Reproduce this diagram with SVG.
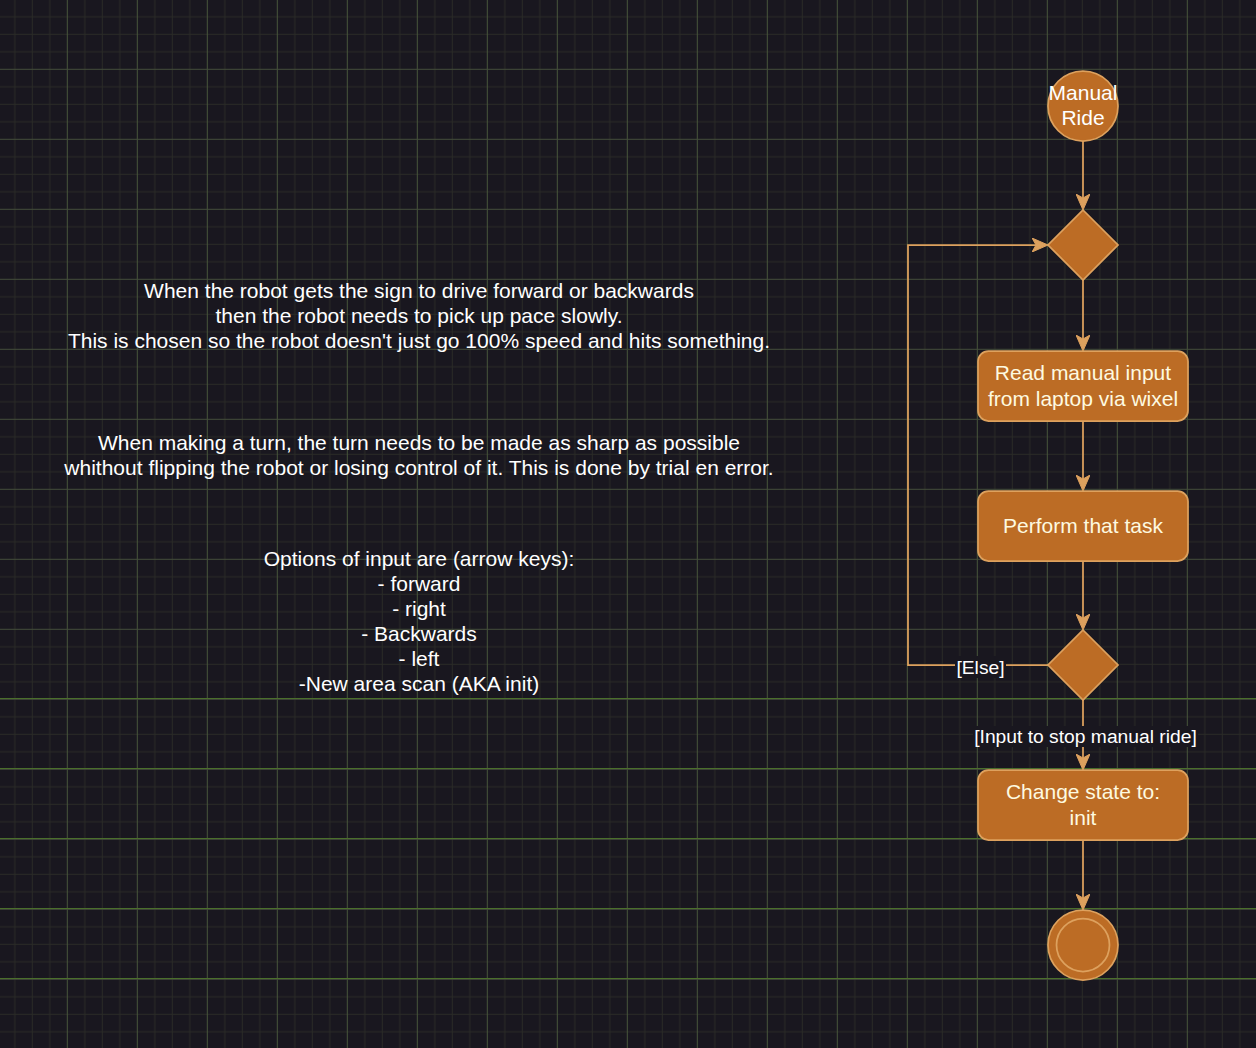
<svg xmlns="http://www.w3.org/2000/svg" width="1256" height="1048" viewBox="0 0 1256 1048">
  <defs>
    <pattern id="grid" patternUnits="userSpaceOnUse" x="-3.2" y="-1.2" width="70" height="70">
      <rect x="0" y="0" width="70" height="70" fill="#19171f"/>
      <g fill="#2a2b27">
        <rect x="17.5" y="0" width="1" height="70"/>
        <rect x="35" y="0" width="1" height="70"/>
        <rect x="52.5" y="0" width="1" height="70"/>
        <rect x="0" y="17.5" width="70" height="1"/>
        <rect x="0" y="35" width="70" height="1"/>
        <rect x="0" y="52.5" width="70" height="1"/>
      </g>
      <rect x="0" y="0" width="1" height="70" fill="#47553b"/>
      <rect x="0" y="0" width="70" height="1" fill="#434d3a"/>
    </pattern>
    <marker id="arrow" markerUnits="userSpaceOnUse" markerWidth="16" markerHeight="14" viewBox="0 0 16 14" refX="4" refY="7" orient="auto">
      <path d="M0,0 L16,7 L0,14 L4,7 Z" fill="#DDA15E" stroke="#DDA15E" stroke-width="1"/>
    </marker>
  </defs>
  <style>
    .shape { fill: #BC6C25; stroke: #DDA15E; stroke-width: 1.75; }
    .edge { fill: none; stroke: #DDA15E; stroke-width: 1.75; }
    .t { font-family: "Liberation Sans", Arial, sans-serif; font-size: 21px; text-anchor: middle; }
    .note { fill: #ffffff; }
    .in { fill: #FEFAE0; }
    .lbl { font-family: "Liberation Sans", Arial, sans-serif; font-size: 19.25px; text-anchor: middle; fill: #ffffff; }
    .lblbg { fill: #19171f; }
  </style>
  <g id="background">
    <rect x="0" y="0" width="1256" height="1048" fill="url(#grid)"/>
    <g fill="#4b6f2c">
      <rect x="0" y="698" width="1256" height="1"/>
      <rect x="0" y="768" width="1256" height="1"/>
      <rect x="0" y="838" width="1256" height="1"/>
      <rect x="0" y="908" width="1256" height="1"/>
      <rect x="0" y="978" width="1256" height="1"/>
    </g>
  </g>
  <g id="notes">
    <text class="t note" x="419" y="297.5">When the robot gets the sign to drive forward or backwards</text>
    <text class="t note" x="419" y="322.5">then the robot needs to pick up pace slowly.</text>
    <text class="t note" x="419" y="347.5">This is chosen so the robot doesn't just go 100% speed and hits something.</text>
    <text class="t note" x="419" y="449.5">When making a turn, the turn needs to be made as sharp as possible</text>
    <text class="t note" x="419" y="474.5">whithout flipping the robot or losing control of it. This is done by trial en error.</text>
    <text class="t note" x="419" y="565.5">Options of input are (arrow keys):</text>
    <text class="t note" x="419" y="590.5">- forward</text>
    <text class="t note" x="419" y="615.5">- right</text>
    <text class="t note" x="419" y="640.5">- Backwards</text>
    <text class="t note" x="419" y="665.5">- left</text>
    <text class="t note" x="419" y="691">-New area scan (AKA init)</text>
  </g>
  <g id="connectors">
    <line class="edge" x1="1083" y1="141" x2="1083" y2="198" marker-end="url(#arrow)"/>
    <line class="edge" x1="1083" y1="280" x2="1083" y2="339" marker-end="url(#arrow)"/>
    <line class="edge" x1="1083" y1="421" x2="1083" y2="479" marker-end="url(#arrow)"/>
    <line class="edge" x1="1083" y1="561" x2="1083" y2="618" marker-end="url(#arrow)"/>
    <polyline class="edge" points="1048,665 908,665 908,245 1036,245" marker-end="url(#arrow)"/>
    <line class="edge" x1="1083" y1="700" x2="1083" y2="758" marker-end="url(#arrow)"/>
    <line class="edge" x1="1083" y1="840" x2="1083" y2="898" marker-end="url(#arrow)"/>
    <g id="label-else">
      <rect class="lblbg" x="955" y="656" width="51" height="22"/>
      <text class="lbl" x="980.5" y="673.5">[Else]</text>
    </g>
    <g id="label-stop">
      <rect class="lblbg" x="973" y="726" width="225" height="21"/>
      <text class="lbl" x="1085.5" y="742.5">[Input to stop manual ride]</text>
    </g>
  </g>
  <g id="start">
    <circle class="shape" cx="1083" cy="106" r="35"/>
    <text class="t note" x="1083" y="99.5">Manual</text>
    <text class="t note" x="1083" y="125">Ride</text>
  </g>
  <g id="decision1">
    <polygon class="shape" points="1083,210 1118,245 1083,280 1048,245"/>
  </g>
  <g id="read-input">
    <rect class="shape" x="978" y="351" width="210" height="70" rx="10.5"/>
    <text class="t in" x="1083" y="380">Read manual input</text>
    <text class="t in" x="1083" y="405.5">from laptop via wixel</text>
  </g>
  <g id="perform-task">
    <rect class="shape" x="978" y="491" width="210" height="70" rx="10.5"/>
    <text class="t in" x="1083" y="533">Perform that task</text>
  </g>
  <g id="decision2">
    <polygon class="shape" points="1083,630 1118,665 1083,700 1048,665"/>
  </g>
  <g id="change-state">
    <rect class="shape" x="978" y="770" width="210" height="70" rx="10.5"/>
    <text class="t in" x="1083" y="799">Change state to:</text>
    <text class="t in" x="1083" y="824.5">init</text>
  </g>
  <g id="end">
    <circle class="shape" cx="1083" cy="945" r="35"/>
    <circle cx="1083" cy="945" r="26.5" fill="none" stroke="#DDA15E" stroke-width="1.75"/>
  </g>
</svg>
